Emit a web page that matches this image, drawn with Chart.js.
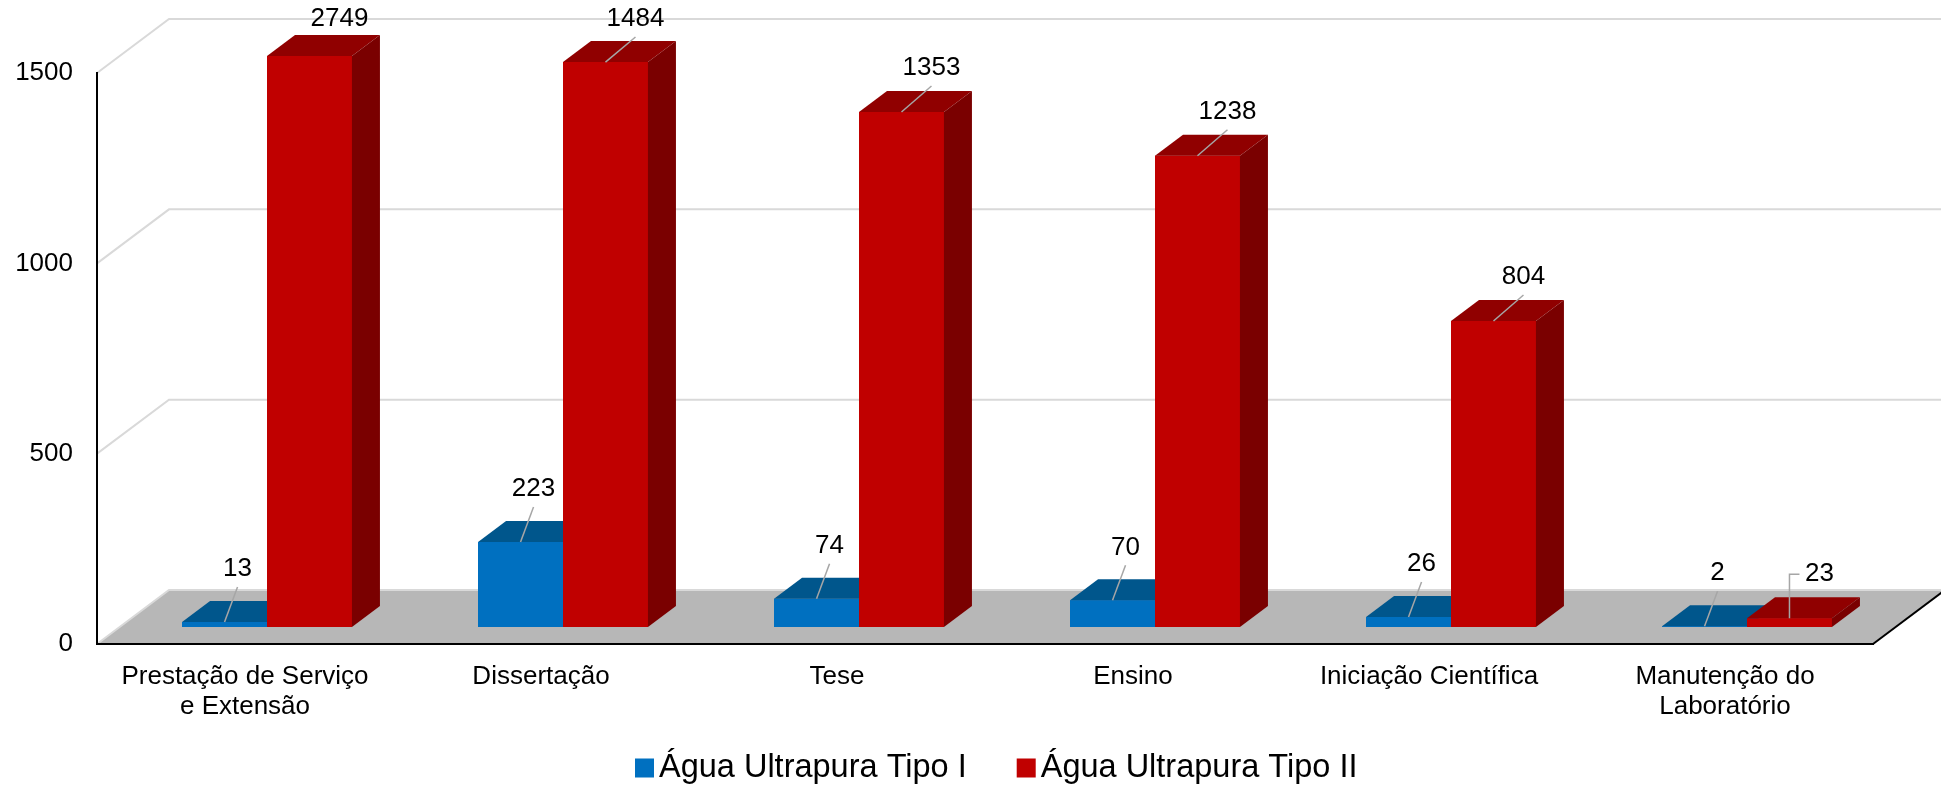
<!DOCTYPE html>
<html>
<head>
<meta charset="utf-8">
<script src="https://cdn.jsdelivr.net/npm/chart.js@4.4.1/dist/chart.umd.min.js"></script>
<style>
  html, body { margin: 0; padding: 0; background: #fff; }
  #wrap { width: 1941px; height: 785px; }
</style>
</head>
<body>
<div id="wrap"><canvas id="chart"></canvas></div>
<script>
var categories = [
    ['Prestação de Serviço', 'e Extensão'],
    'Dissertação',
    'Tese',
    'Ensino',
    'Iniciação Científica',
    ['Manutenção do', 'Laboratório']
];
var tipoI = [13, 223, 74, 70, 26, 2];
var tipoII = [2749, 1484, 1353, 1238, 804, 23];
var seriesNames = ['Água Ultrapura Tipo I', 'Água Ultrapura Tipo II'];
var yTicks = [0, 500, 1000, 1500];

var FONT = '"Liberation Sans", Arial, sans-serif';
var frontColors = ['#0070c0', '#c00000'];
var topColors = ['#00568c', '#900000'];
var sideColors = ['#004c7c', '#7a0000'];

// fake 3d geometry
var DX = 72, DY = 54;   // floor / wall depth
var OX = 22, OY = 17;   // bars stand this far behind the front edge
var BX = 28, BY = 21;   // depth of a bar
// where the value labels sit relative to the top of their bar
var labelOffset = [[13, -53], [30, -44]];
var labelMinY = 19;
var elbowLeader = { dataset: 1, index: 5 };

function poly(ctx, pts) {
    ctx.beginPath();
    ctx.moveTo(pts[0], pts[1]);
    for (var k = 2; k < pts.length; k += 2) ctx.lineTo(pts[k], pts[k + 1]);
    ctx.closePath();
    ctx.fill();
}

var fake3d = {
    id: 'fake3d',
    beforeDraw: function(chart) {
        var ctx = chart.ctx, a = chart.chartArea, y = chart.scales.y;
        ctx.save();
        // floor
        ctx.fillStyle = '#b7b7b7';
        poly(ctx, [a.left, a.bottom, a.right, a.bottom, a.right + DX, a.bottom - DY, a.left + DX, a.bottom - DY]);
        // back wall gridlines
        ctx.strokeStyle = '#d9d9d9';
        ctx.lineWidth = 2;
        yTicks.forEach(function(v) {
            var py = y.getPixelForValue(v);
            ctx.beginPath();
            ctx.moveTo(a.left, py);
            ctx.lineTo(a.left + DX, py - DY);
            ctx.lineTo(chart.width, py - DY);
            ctx.stroke();
        });
        // right edge of the floor
        ctx.strokeStyle = '#000';
        ctx.beginPath();
        ctx.moveTo(a.right, a.bottom);
        ctx.lineTo(a.right + DX, a.bottom - DY);
        ctx.stroke();
        ctx.restore();
    },
    beforeDatasetsDraw: function(chart) {
        chart.ctx.save();
        chart.ctx.translate(OX, -OY);
    },
    afterDatasetsDraw: function(chart) {
        var ctx = chart.ctx, top = chart.chartArea.top;
        var n = categories.length, tops = [[], []];
        for (var i = 0; i < n; i++) {
            for (var d = 0; d < 2; d++) {
                var p = chart.getDatasetMeta(d).data[i].getProps(['x', 'y', 'base', 'width'], true);
                var x1 = p.x - p.width / 2, x2 = p.x + p.width / 2;
                var yt = Math.max(p.y, top), yb = p.base;
                ctx.fillStyle = frontColors[d];
                ctx.fillRect(x1, yt, x2 - x1, yb - yt);
                ctx.fillStyle = topColors[d];
                poly(ctx, [x1, yt, x2, yt, x2 + BX, yt - BY, x1 + BX, yt - BY]);
                ctx.fillStyle = sideColors[d];
                poly(ctx, [x2, yt, x2 + BX, yt - BY, x2 + BX, yb - BY, x2, yb]);
                tops[d][i] = { x: p.x + OX, y: yt - OY, clipped: p.y < top };
            }
        }
        ctx.restore();

        // value labels with leader lines
        ctx.save();
        ctx.font = '26px ' + FONT;
        ctx.fillStyle = '#000';
        ctx.textAlign = 'center';
        ctx.textBaseline = 'middle';
        ctx.strokeStyle = '#a6a6a6';
        ctx.lineWidth = 1.5;
        var values = [tipoI, tipoII];
        for (var d2 = 0; d2 < 2; d2++) {
            for (var j = 0; j < n; j++) {
                var t = tops[d2][j];
                var lx = t.x + labelOffset[d2][0];
                var ly = Math.max(t.y + labelOffset[d2][1], labelMinY);
                if (!t.clipped) {
                    ctx.beginPath();
                    ctx.moveTo(t.x, t.y);
                    if (d2 === elbowLeader.dataset && j === elbowLeader.index) {
                        ctx.lineTo(t.x, ly);
                        ctx.lineTo(lx - 20, ly);
                    } else {
                        ctx.lineTo(lx, ly + 18);
                    }
                    ctx.stroke();
                }
                ctx.fillText(String(values[d2][j]), lx, ly);
            }
        }
        ctx.restore();
    },
    afterDraw: function(chart) {
        // legend
        var ctx = chart.ctx;
        ctx.save();
        ctx.font = '32.5px ' + FONT;
        ctx.textBaseline = 'middle';
        var x = 635, yc = 768;
        seriesNames.forEach(function(name, k) {
            ctx.fillStyle = frontColors[k];
            ctx.fillRect(x, yc - 9.5, 19, 19);
            ctx.fillStyle = '#000';
            ctx.fillText(name, x + 24, yc);
            x += 24 + ctx.measureText(name).width + 50;
        });
        ctx.restore();
    }
};

var noTopClip = { left: false, right: false, top: 0, bottom: false };

new Chart(document.getElementById('chart'), {
    type: 'bar',
    data: {
        labels: categories,
        datasets: [
            { label: seriesNames[0], data: tipoI, backgroundColor: frontColors[0], clip: noTopClip,
              categoryPercentage: 0.574, barPercentage: 1 },
            { label: seriesNames[1], data: tipoII, backgroundColor: frontColors[1], clip: noTopClip,
              categoryPercentage: 0.574, barPercentage: 1 }
        ]
    },
    options: {
        responsive: true,
        maintainAspectRatio: false,
        animation: false,
        layout: { padding: { top: 73, right: 68, bottom: 0, left: 0 } },
        plugins: {
            legend: { display: false },
            tooltip: { enabled: false }
        },
        scales: {
            x: {
                grid: { display: false, drawTicks: false },
                border: { display: true, color: '#000', width: 2 },
                ticks: { color: '#000', font: { family: FONT, size: 26, lineHeight: 1.15 },
                         padding: 18, maxRotation: 0, autoSkip: false },
                afterFit: function(s) { s.height = 141; }
            },
            y: {
                min: 0,
                max: 1500,
                grid: { display: false, drawTicks: false },
                border: { display: true, color: '#000', width: 2 },
                ticks: { color: '#000', font: { family: FONT, size: 26 }, padding: 24,
                         callback: function(v) { return String(v); } },
                afterBuildTicks: function(s) { s.ticks = yTicks.map(function(v) { return { value: v }; }); },
                afterFit: function(s) { s.width = 97; }
            }
        }
    },
    plugins: [fake3d]
});
</script>
</body>
</html>
